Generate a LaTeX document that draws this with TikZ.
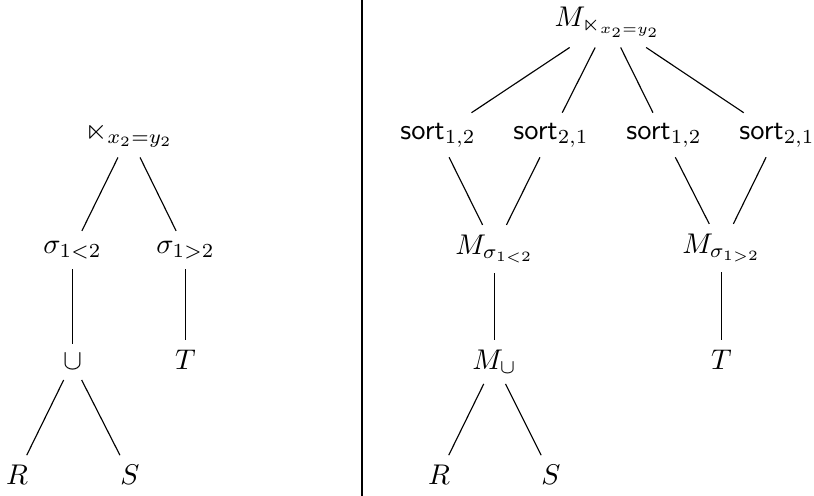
\documentclass[tikz,border=0pt]{standalone}
\usepackage{amsmath,amssymb}
\begin{document}
\begin{tikzpicture}[x=0.351pt,y=-0.351pt,
  tn/.style={inner sep=0.3333em},
  edge/.style={draw=black,line width=0.4pt},
  divider/.style={draw=black,line width=0.7pt}]
\useasboundingbox (0,0) rectangle (814,496);
% left tree
\node[tn] (J)  at (129,135) {$\ltimes_{x_2=y_2}$};
\node[tn] (s1) at (72.5,250) {$\sigma_{1<2}$};
\node[tn] (s2) at (185.5,250) {$\sigma_{1>2}$};
\node[tn] (u)  at (72.5,362) {$\cup$};
\node[tn] (T)  at (185.5,360) {$T$};
\node[tn] (R)  at (17,475) {$R$};
\node[tn] (S)  at (130,475) {$S$};
\draw[edge] (J) -- (s1);
\draw[edge] (J) -- (s2);
\draw[edge] (s1) -- (u);
\draw[edge] (s2) -- (T);
\draw[edge] (u) -- (R);
\draw[edge] (u) -- (S);
% divider
\coordinate (dtop) at (362,0);
\coordinate (dbot) at (362,496);
\draw[divider] (dtop) -- (dbot);
% right tree
\node[tn] (MJ) at (608,22) {$M_{\ltimes_{x_2=y_2}}$};
\node[tn] (o1) at (438,135) {$\mathsf{sort}_{1,2}$};
\node[tn] (o2) at (551,135) {$\mathsf{sort}_{2,1}$};
\node[tn] (o3) at (664,135) {$\mathsf{sort}_{1,2}$};
\node[tn] (o4) at (777,135) {$\mathsf{sort}_{2,1}$};
\node[tn] (Ms1) at (494.5,249) {$M_{\sigma_{1<2}}$};
\node[tn] (Ms2) at (721.5,248) {$M_{\sigma_{1>2}}$};
\node[tn] (Mu) at (494.5,362) {$M_{\cup}$};
\node[tn] (T2) at (721.5,360) {$T$};
\node[tn] (R2) at (439,475) {$R$};
\node[tn] (S2) at (551,475) {$S$};
\draw[edge] (MJ) -- (o1);
\draw[edge] (MJ) -- (o2);
\draw[edge] (MJ) -- (o3);
\draw[edge] (MJ) -- (o4);
\draw[edge] (o1) -- (Ms1);
\draw[edge] (o2) -- (Ms1);
\draw[edge] (o3) -- (Ms2);
\draw[edge] (o4) -- (Ms2);
\draw[edge] (Ms1) -- (Mu);
\draw[edge] (Ms2) -- (T2);
\draw[edge] (Mu) -- (R2);
\draw[edge] (Mu) -- (S2);
\end{tikzpicture}
\end{document}
